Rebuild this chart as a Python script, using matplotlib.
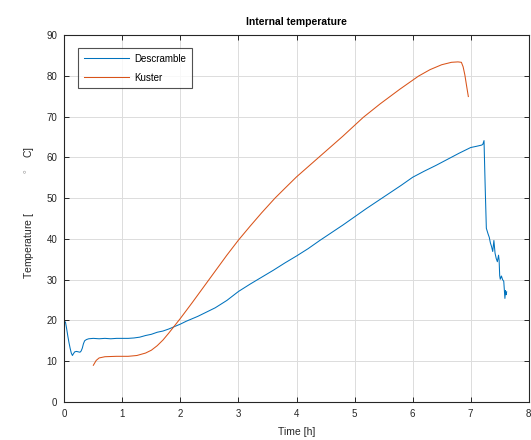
import matplotlib
matplotlib.use("Agg")
import matplotlib.pyplot as plt

plt.rcParams['font.family'] = ['Liberation Sans', 'DejaVu Sans']
plt.rcParams['mathtext.fontset'] = 'custom'
plt.rcParams['mathtext.rm'] = 'Liberation Sans'

# Descramble (blue) - time [h], temperature [C]
desc_t = [0.00, 0.02, 0.04, 0.06, 0.08, 0.10, 0.12, 0.14, 0.16, 0.18, 0.21, 0.24,
          0.27, 0.29, 0.31, 0.33, 0.35, 0.38, 0.42, 0.50, 0.60, 0.70, 0.80, 0.90,
          1.00, 1.10, 1.20, 1.30, 1.40, 1.50, 1.60, 1.70, 1.80, 1.90, 2.00, 2.10,
          2.20, 2.30, 2.40, 2.50, 2.60, 2.70, 2.80, 2.90, 3.00, 3.20, 3.40, 3.60,
          3.80, 4.00, 4.20, 4.40, 4.60, 4.80, 5.00, 5.20, 5.40, 5.60, 5.80, 6.00,
          6.20, 6.40, 6.60, 6.80, 7.00, 7.10, 7.19, 7.21, 7.23, 7.25, 7.27, 7.30,
          7.32, 7.34, 7.36, 7.38, 7.40, 7.42, 7.44, 7.46, 7.48, 7.49, 7.50, 7.51,
          7.53, 7.55, 7.57, 7.59, 7.60, 7.61, 7.62]
desc_T = [19.8, 19.6, 18.0, 16.2, 14.6, 13.2, 12.0, 11.4, 11.9, 12.3, 12.4, 12.3,
          12.2, 12.5, 13.2, 14.3, 15.0, 15.3, 15.5, 15.6, 15.5, 15.6, 15.5, 15.6,
          15.6, 15.6, 15.7, 15.9, 16.3, 16.6, 17.1, 17.4, 17.9, 18.5, 19.1, 19.8,
          20.4, 21.0, 21.7, 22.4, 23.1, 24.0, 24.9, 26.0, 27.1, 28.9, 30.6, 32.3,
          34.1, 35.8, 37.6, 39.6, 41.5, 43.4, 45.4, 47.4, 49.3, 51.2, 53.1, 55.1,
          56.6, 58.0, 59.5, 61.0, 62.4, 62.7, 63.0, 63.2, 64.1, 52.8, 42.6, 41.2,
          40.4, 39.0, 38.1, 36.9, 39.6, 36.5, 35.2, 34.4, 36.0, 34.8, 31.0, 30.1,
          30.9, 30.0, 29.6, 25.4, 27.3, 26.3, 27.0]

# Kuster (orange)
kust_t = [0.50, 0.55, 0.60, 0.70, 0.90, 1.10, 1.25, 1.40, 1.50, 1.60, 1.70, 1.80,
          1.90, 2.00, 2.20, 2.40, 2.60, 2.80, 3.00, 3.20, 3.40, 3.63, 3.80, 4.00,
          4.20, 4.40, 4.80, 5.15, 5.44, 5.78, 6.10, 6.30, 6.50, 6.67, 6.78, 6.84,
          6.87, 6.90, 6.93, 6.96]
kust_T = [9.0, 10.2, 10.8, 11.1, 11.2, 11.2, 11.4, 12.0, 12.7, 13.8, 15.2, 16.9,
          18.7, 20.5, 24.3, 28.2, 32.1, 36.0, 39.7, 43.1, 46.4, 50.0, 52.4, 55.2,
          57.7, 60.2, 65.2, 69.8, 73.1, 76.7, 79.9, 81.5, 82.7, 83.3, 83.4, 83.3,
          82.2, 80.2, 77.5, 74.9]

series_names = ['Descramble', 'Kuster']
x_ticks = [0, 1, 2, 3, 4, 5, 6, 7, 8]
y_ticks = [0, 10, 20, 30, 40, 50, 60, 70, 80, 90]

fig = plt.figure(figsize=(5.31, 4.40), dpi=100)
ax = fig.add_axes([0.1211, 0.0864, 0.8746, 0.8341])

ax.plot(desc_t, desc_T, color='#0072BD', lw=0.75, label=series_names[0])
ax.plot(kust_t, kust_T, color='#D95319', lw=0.75, label=series_names[1])

ax.set_xlim(0, 8)
ax.set_ylim(0, 90)
ax.set_xticks(x_ticks)
ax.set_yticks(y_ticks)
ax.grid(True, color='#dcdcdc', lw=0.7)
ax.set_axisbelow(True)
ax.tick_params(direction='in', length=3.5, width=0.7, top=True, right=True,
               labelsize=7, colors='#262626', pad=5)
for s in ax.spines.values():
    s.set_color('#262626')
    s.set_linewidth(0.8)

ax.set_title('Internal temperature', fontsize=7.5, fontweight='bold', pad=7)
ax.set_xlabel('Time [h]', fontsize=7.5, color='#262626', labelpad=6)
# MATLAB-style TeX label leaves a wide gap around the degree sign
ax.set_ylabel('Temperature [              $^{\\circ}$    C]', fontsize=7.5,
              color='#262626')
ax.yaxis.set_label_coords(-0.061, 0.516)

leg = ax.legend(loc='upper left', bbox_to_anchor=(0.0295, 0.9646), borderaxespad=0,
                fontsize=7, frameon=True, fancybox=False, handlelength=4.6,
                handletextpad=0.6, borderpad=0.6, labelspacing=0.9)
leg.get_frame().set_edgecolor('#262626')
leg.get_frame().set_linewidth(0.8)

fig.savefig('out.png', dpi=100)
